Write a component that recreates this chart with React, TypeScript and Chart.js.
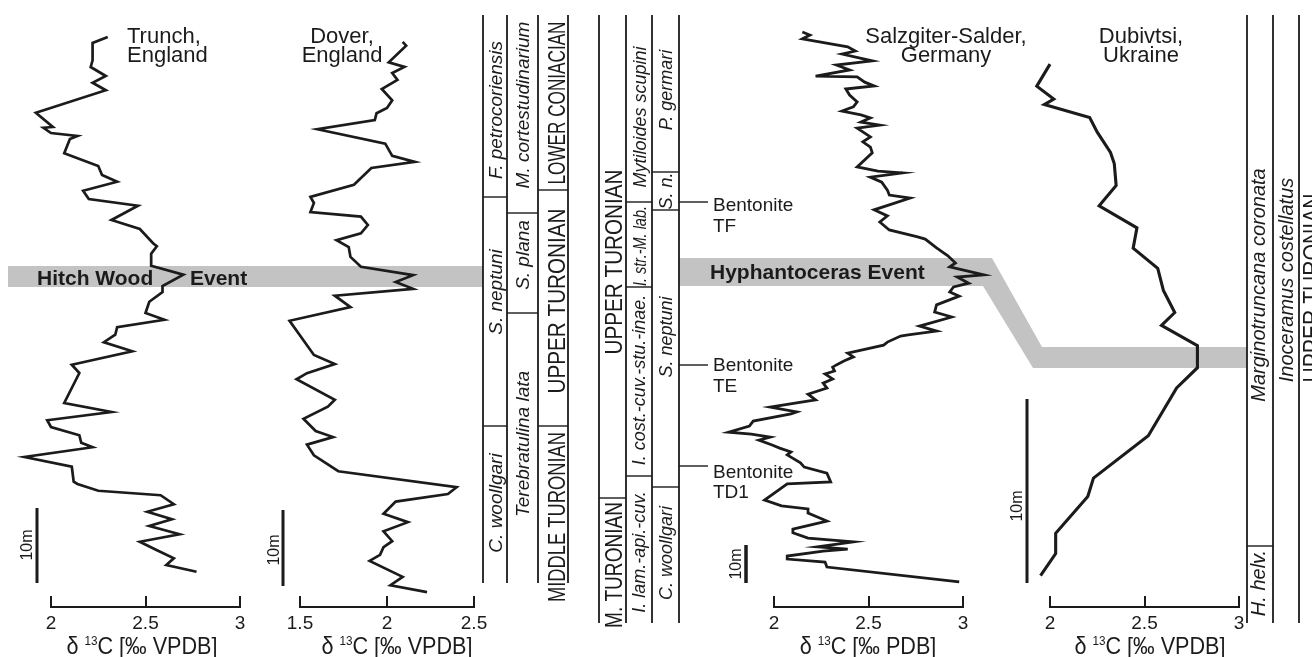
import React, { useEffect, useRef } from "react";
import { Chart, registerables } from "chart.js";

Chart.register(...registerables);

const FONT = '"Liberation Sans", Arial, Helvetica, sans-serif';
const INK = "#1b1b1b";
const BAND = "#c3c3c3";
const PAGE_W = 1312;
const PAGE_H = 657;
const AXIS_Y = 607;

// ---------------- data (δ13C in ‰, stratigraphic height in m) ----------------
const trunchD13C = [2.30, 2.22, 2.22, 2.21, 2.29, 2.22, 2.29, 1.92, 2.01, 1.96, 2.00, 2.14, 2.10, 2.07, 2.25, 2.27, 2.35, 2.17, 2.20, 2.46, 2.32, 2.47, 2.54, 2.56, 2.53, 2.53, 2.70, 2.59, 2.59, 2.52, 2.50, 2.60, 2.35, 2.34, 2.28, 2.43, 2.11, 2.15, 2.07, 2.32, 1.98, 2.00, 2.15, 2.16, 2.22, 1.86, 2.11, 2.12, 2.14, 2.25, 2.58, 2.65, 2.51, 2.64, 2.52, 2.68, 2.47, 2.55, 2.65, 2.61, 2.77];
const trunchHeightM = [72.8, 72.0, 69.7, 68.8, 67.6, 66.7, 65.7, 62.7, 60.8, 60.7, 60.0, 59.6, 59.2, 57.3, 55.6, 54.4, 53.5, 52.3, 51.2, 50.3, 48.4, 47.2, 45.3, 44.9, 43.9, 42.3, 41.1, 39.6, 38.8, 37.5, 36.0, 35.1, 34.1, 33.1, 32.1, 30.9, 29.1, 28.0, 24.0, 22.8, 21.7, 20.8, 19.7, 18.7, 18.1, 16.8, 15.5, 13.5, 13.2, 12.3, 11.7, 10.5, 9.5, 8.5, 7.6, 6.5, 5.5, 4.5, 3.3, 2.4, 1.5];
const trunchTicks = [2, 2.5, 3];

const doverD13C = [2.09, 2.11, 2.01, 2.10, 2.03, 2.06, 1.97, 2.03, 2.00, 1.94, 1.93, 1.60, 1.99, 2.03, 2.16, 1.91, 1.81, 1.56, 1.58, 1.56, 1.85, 1.89, 1.85, 1.71, 1.78, 1.79, 1.85, 2.15, 2.05, 2.15, 1.70, 1.79, 1.44, 1.58, 1.70, 1.54, 1.48, 1.70, 1.66, 1.52, 1.59, 1.69, 1.54, 1.58, 1.72, 2.40, 2.35, 2.05, 1.98, 2.12, 1.98, 2.03, 1.98, 1.96, 1.90, 2.09, 2.02, 2.23];
const doverHeightM = [71.6, 71.1, 68.9, 68.3, 67.5, 66.6, 65.4, 63.9, 62.9, 62.2, 61.3, 60.1, 58.2, 56.6, 55.8, 55.0, 52.8, 51.2, 50.4, 49.2, 48.6, 47.5, 46.4, 45.5, 44.6, 43.3, 42.0, 40.9, 40.0, 39.1, 38.2, 36.7, 34.9, 30.4, 29.2, 28.0, 27.2, 24.5, 23.6, 22.0, 20.4, 19.6, 18.6, 17.2, 15.1, 13.0, 12.1, 11.1, 9.5, 8.4, 7.2, 5.9, 5.1, 4.1, 3.3, 1.2, 0.1, -0.8];
const doverTicks = [1.5, 2, 2.5];

const salzgitterD13C = [2.15, 2.19, 2.15, 2.39, 2.43, 2.36, 2.52, 2.33, 2.40, 2.22, 2.44, 2.48, 2.53, 2.38, 2.40, 2.44, 2.42, 2.36, 2.46, 2.51, 2.46, 2.56, 2.44, 2.48, 2.51, 2.47, 2.51, 2.52, 2.44, 2.55, 2.68, 2.51, 2.57, 2.60, 2.61, 2.72, 2.53, 2.60, 2.56, 2.61, 2.76, 2.80, 2.86, 2.92, 2.96, 2.93, 3.11, 2.97, 3.03, 2.95, 2.93, 2.98, 2.86, 2.85, 2.94, 2.77, 2.86, 2.71, 2.67, 2.60, 2.58, 2.39, 2.42, 2.37, 2.33, 2.31, 2.32, 2.27, 2.31, 2.26, 2.28, 2.18, 2.22, 2.12, 1.98, 2.12, 2.09, 1.89, 1.87, 1.76, 1.88, 1.98, 1.92, 1.99, 2.03, 2.09, 2.07, 2.14, 2.16, 2.28, 2.30, 2.07, 1.95, 2.04, 2.18, 2.18, 2.28, 2.10, 2.10, 2.18, 2.42, 2.23, 2.39, 2.26, 2.07, 2.07, 2.27, 2.28, 2.98];
const salzgitterHeightM = [145.0, 144.2, 143.2, 141.1, 140.0, 139.2, 137.4, 136.3, 135.0, 133.4, 133.2, 131.8, 130.8, 130.0, 128.4, 126.6, 125.3, 124.2, 123.2, 122.4, 121.3, 120.5, 119.7, 118.4, 117.4, 116.1, 114.7, 113.2, 109.5, 108.4, 107.9, 106.8, 105.5, 103.4, 102.1, 101.3, 98.2, 96.6, 95.0, 92.9, 91.1, 90.5, 88.2, 86.1, 84.2, 83.2, 81.1, 80.5, 78.9, 77.9, 76.6, 75.5, 73.2, 71.3, 70.0, 67.6, 66.3, 65.3, 65.0, 63.4, 62.6, 60.5, 59.5, 58.4, 57.4, 56.8, 55.8, 55.0, 53.7, 52.6, 51.3, 49.7, 48.2, 47.4, 46.3, 45.0, 44.5, 42.6, 41.3, 39.7, 39.2, 38.4, 37.6, 36.3, 35.5, 34.5, 33.7, 31.6, 30.5, 28.9, 26.6, 26.1, 21.8, 20.3, 19.5, 18.4, 16.3, 14.2, 13.2, 11.8, 10.8, 9.5, 8.9, 8.4, 7.1, 6.3, 5.5, 4.2, 0.3];
const salzgitterTicks = [2, 2.5, 3];

const dubivtsiD13C = [2.00, 1.93, 2.02, 1.97, 2.21, 2.25, 2.32, 2.34, 2.35, 2.26, 2.46, 2.44, 2.57, 2.60, 2.66, 2.59, 2.78, 2.78, 2.67, 2.52, 2.23, 2.20, 2.03, 2.03, 1.95];
const dubivtsiHeightM = [28.2, 27.0, 26.3, 26.0, 25.3, 24.5, 23.4, 22.8, 21.6, 20.5, 19.3, 18.2, 17.1, 15.9, 14.7, 14.0, 12.9, 11.7, 10.6, 8.0, 5.7, 4.7, 2.7, 1.6, 0.4];
const dubivtsiTicks = [2, 2.5, 3];

// ---------------- stratigraphic columns (labels) ----------------
// [text, centerX, centerY, fontSize, style('i' italic / 'c' caps), targetLength?]
const STRAT_LABELS: [string, number, number, number, string, number?][] = [
  ["F. petrocoriensis", 497, 110, 19, "i"],
  ["S. neptuni", 497, 292, 19, "i"],
  ["C. woollgari", 497, 503, 19, "i"],
  ["M. cortestudinarium", 524, 105, 19, "i"],
  ["S. plana", 524, 255, 19, "i"],
  ["Terebratulina lata", 524, 444, 19, "i"],
  ["LOWER CONIACIAN", 556, 103, 24, "c", 163],
  ["UPPER TURONIAN", 556, 301, 24, "c", 185],
  ["MIDDLE TURONIAN", 556, 517, 24, "c", 170],
  ["UPPER TURONIAN", 613, 262, 24, "c", 185],
  ["M. TURONIAN", 613, 565, 24, "c", 126],
  ["Mytiloides scupini", 641, 117, 18, "i"],
  ["I. str.-M. lab.", 641, 246, 18, "i", 80],
  ["I. cost.-cuv.-stu.-inae.", 640, 380, 18, "i"],
  ["I. lam.-api.-cuv.", 640, 552, 18, "i"],
  ["P. germari", 667, 90, 18, "i"],
  ["S. n.", 667, 191, 18, "i"],
  ["S. neptuni", 667, 337, 18, "i"],
  ["C. woollgari", 667, 553, 18, "i"],
  ["Marginotruncana coronata", 1260, 285, 20, "i"],
  ["H. helv.", 1260, 583, 20, "i"],
  ["Inoceramus costellatus", 1288, 280, 20, "i"],
  ["UPPER TURONIAN", 1311, 288, 24, "c", 189],
];

// layout of column frames: vertical [x, y0, y1], horizontal [x0, x1, y]
const STRAT_V = [
  [483, 15, 583], [507, 15, 583], [538, 15, 583], [568, 15, 583],
  [599, 15, 623], [626, 15, 623], [652, 15, 623], [679, 15, 623],
  [1247, 15, 623], [1273, 15, 623], [1299, 15, 623],
];
const STRAT_H = [
  [483, 507, 197], [483, 507, 426], [507, 538, 213], [507, 538, 313],
  [538, 568, 190], [538, 568, 426],
  [599, 626, 498], [626, 652, 202], [626, 652, 287], [626, 652, 476],
  [652, 679, 172], [652, 679, 210], [652, 679, 487],
  [1247, 1273, 546],
];

const BENTONITES = [
  { label: "TF", leaderY: 202, base1: 211, base2: 232 },
  { label: "TE", leaderY: 365, base1: 371, base2: 392 },
  { label: "TD1", leaderY: 466, base1: 478, base2: 498 },
];

const HYPH_BAND = [
  [679, 258], [992, 258], [1042, 347], [1247, 347], [1247, 368], [1033, 368], [983, 286], [679, 286],
];

// ---------------- panels ----------------
type Panel = {
  id: string; d13c: number[]; height: number[]; ticks: number[];
  xMin: number; xMax: number; left: number; right: number; yMin: number; yMax: number;
  unit: string; titleCx: number; site: string[]; siteX: number; siteAlign: CanvasTextAlign;
  barX: number; barW: number; barLabelX: number; barLabelY: number; lw: number; background?: boolean;
};

const PANELS: Panel[] = [
  { id: "trunch", d13c: trunchD13C, height: trunchHeightM, ticks: trunchTicks, xMin: 2, xMax: 3, left: 51, right: 240,
    yMin: -3.2, yMax: 77.733, unit: "VPDB", titleCx: 142, site: ["Trunch,", "England"], siteX: 127, siteAlign: "left",
    barX: 37, barW: 3, barLabelX: 26, barLabelY: 545, lw: 2.7, background: true },
  { id: "dover", d13c: doverD13C, height: doverHeightM, ticks: doverTicks, xMin: 1.5, xMax: 2.5, left: 300, right: 474,
    yMin: -2.763, yMax: 77.105, unit: "VPDB", titleCx: 397, site: ["Dover,", "England"], siteX: 342, siteAlign: "center",
    barX: 283, barW: 3, barLabelX: 273, barLabelY: 550, lw: 2.7 },
  { id: "salzgitter", d13c: salzgitterD13C, height: salzgitterHeightM, ticks: salzgitterTicks, xMin: 2, xMax: 3, left: 774, right: 963,
    yMin: -6.316, yMax: 153.42, unit: "PDB", titleCx: 868, site: ["Salzgiter-Salder,", "Germany"], siteX: 946, siteAlign: "center",
    barX: 746, barW: 3.5, barLabelX: 735, barLabelY: 564, lw: 2.8 },
  { id: "dubivtsi", d13c: dubivtsiD13C, height: dubivtsiHeightM, ticks: dubivtsiTicks, xMin: 2, xMax: 3, left: 1050, right: 1239,
    yMin: -1.304, yMax: 31.685, unit: "VPDB", titleCx: 1150, site: ["Dubivtsi,", "Ukraine"], siteX: 1141, siteAlign: "center",
    barX: 1027, barW: 3, barLabelX: 1016, barLabelY: 506, lw: 3.1 },
];

// ---------------- drawing helpers ----------------
function vtext(ctx: CanvasRenderingContext2D, text: string, cx: number, cy: number, size: number,
  o: { italic?: boolean; caps?: boolean; len?: number }) {
  ctx.save();
  ctx.font = `${o.italic ? "italic " : ""}${size}px ${FONT}`;
  ctx.fillStyle = INK;
  const w = ctx.measureText(text).width;
  const sx = o.len ? o.len / w : 1;
  const off = (o.caps ? 0.358 : 0.26) * size;
  ctx.translate(cx + off, cy);
  ctx.rotate(-Math.PI / 2);
  ctx.scale(sx, 1);
  ctx.textAlign = "center";
  ctx.textBaseline = "alphabetic";
  ctx.fillText(text, 0, 0);
  ctx.restore();
}

function deltaTitle(ctx: CanvasRenderingContext2D, cx: number, baseline: number, unit: string) {
  const bigF = `24px ${FONT}`;
  const smallF = `13px ${FONT}`;
  const a = "δ ";
  const c = `C [‰ ${unit}]`;
  ctx.save();
  ctx.font = bigF;
  const wa = ctx.measureText(a).width;
  const wc = ctx.measureText(c).width;
  ctx.font = smallF;
  const wb = ctx.measureText("13").width;
  const total = wa + wb + wc;
  ctx.translate(cx, baseline);
  ctx.scale(0.9, 1);
  ctx.fillStyle = INK;
  ctx.textAlign = "left";
  ctx.textBaseline = "alphabetic";
  let x = -total / 2;
  ctx.font = bigF; ctx.fillText(a, x, 0); x += wa;
  ctx.font = smallF; ctx.fillText("13", x, -9); x += wb;
  ctx.font = bigF; ctx.fillText(c, x, 0);
  ctx.restore();
}

function drawBackground(ctx: CanvasRenderingContext2D) {
  ctx.save();
  // event bands
  ctx.fillStyle = BAND;
  ctx.fillRect(8, 266, 475, 21);
  ctx.beginPath();
  HYPH_BAND.forEach(([x, y], i) => (i ? ctx.lineTo(x, y) : ctx.moveTo(x, y)));
  ctx.closePath();
  ctx.fill();

  ctx.fillStyle = INK;
  ctx.font = `bold 21px ${FONT}`;
  ctx.textAlign = "left";
  ctx.textBaseline = "alphabetic";
  ctx.fillText("Hitch Wood", 37, 285);
  ctx.fillText("Event", 190, 285);
  ctx.fillText("Hyphantoceras Event", 710, 279);

  // column frames
  ctx.strokeStyle = INK;
  ctx.lineCap = "butt";
  ctx.lineWidth = 1.8;
  for (const [x, y0, y1] of STRAT_V) {
    ctx.beginPath(); ctx.moveTo(x, y0); ctx.lineTo(x, y1); ctx.stroke();
  }
  ctx.lineWidth = 1.4;
  for (const [x0, x1, y] of STRAT_H) {
    ctx.beginPath(); ctx.moveTo(x0, y); ctx.lineTo(x1, y); ctx.stroke();
  }
  for (const [t, cx, cy, size, st, len] of STRAT_LABELS) {
    vtext(ctx, t, cx, cy, size, { italic: st === "i", caps: st === "c", len });
  }

  // bentonites
  ctx.font = `19px ${FONT}`;
  ctx.fillStyle = INK;
  ctx.textAlign = "left";
  for (const b of BENTONITES) {
    ctx.beginPath(); ctx.moveTo(679, b.leaderY); ctx.lineTo(708, b.leaderY); ctx.stroke();
    ctx.fillText("Bentonite", 713, b.base1);
    ctx.fillText(b.label, 713, b.base2);
  }
  ctx.restore();
}

function makePlugin(p: Panel) {
  return {
    id: "deco-" + p.id,
    beforeDraw(chart: any) {
      if (p.background) drawBackground(chart.ctx);
    },
    afterDraw(chart: any) {
      const ctx: CanvasRenderingContext2D = chart.ctx;
      const ys = chart.scales.y;
      ctx.save();
      ctx.strokeStyle = INK;
      ctx.lineWidth = p.barW;
      ctx.lineCap = "butt";
      ctx.beginPath();
      ctx.moveTo(p.barX, ys.getPixelForValue(0));
      ctx.lineTo(p.barX, ys.getPixelForValue(10));
      ctx.stroke();
      vtext(ctx, "10m", p.barLabelX, p.barLabelY, 16, { caps: true });

      ctx.fillStyle = INK;
      ctx.font = `22px ${FONT}`;
      ctx.textAlign = p.siteAlign;
      ctx.textBaseline = "alphabetic";
      ctx.fillText(p.site[0], p.siteX, 43);
      ctx.fillText(p.site[1], p.siteX, 62);
      ctx.restore();
      deltaTitle(ctx, p.titleCx, 654, p.unit);
    },
  };
}

function buildConfig(p: Panel): any {
  return {
    type: "line",
    data: {
      datasets: [{
        data: p.d13c.map((v, i) => ({ x: v, y: p.height[i] })),
        borderColor: INK,
        borderWidth: p.lw,
        pointRadius: 0,
        pointHoverRadius: 0,
        tension: 0,
        fill: false,
        clip: false,
        borderJoinStyle: "miter",
        borderCapStyle: "butt",
      }],
    },
    options: {
      responsive: false,
      animation: false,
      devicePixelRatio: 1,
      events: [],
      layout: { autoPadding: false, padding: { left: p.left, right: PAGE_W - p.right, top: 0, bottom: 0 } },
      plugins: { legend: { display: false }, tooltip: { enabled: false }, title: { display: false } },
      scales: {
        x: {
          type: "linear",
          position: "bottom",
          min: p.xMin,
          max: p.xMax,
          afterBuildTicks: (s: any) => { s.ticks = p.ticks.map((v) => ({ value: v })); },
          afterFit: (s: any) => { s.height = PAGE_H - AXIS_Y; },
          grid: { display: true, drawOnChartArea: false, drawTicks: true, tickLength: -11, tickWidth: 2, tickColor: INK, color: INK, lineWidth: 2 },
          border: { display: true, color: INK, width: 2 },
          ticks: { color: INK, font: { family: FONT, size: 19 }, padding: 16, maxRotation: 0, autoSkip: false, callback: (v: any) => String(v) },
        },
        y: { type: "linear", display: false, min: p.yMin, max: p.yMax },
      },
    },
    plugins: [makePlugin(p)],
  };
}

export default function App() {
  const refs = useRef<(HTMLCanvasElement | null)[]>([]);
  useEffect(() => {
    const charts = PANELS.map((p, i) => new Chart(refs.current[i] as HTMLCanvasElement, buildConfig(p)));
    return () => charts.forEach((c) => c.destroy());
  }, []);
  return (
    <div style={{ position: "fixed", left: 0, top: 0, width: PAGE_W, height: PAGE_H, background: "#fff", overflow: "hidden" }}>
      {PANELS.map((p, i) => (
        <canvas
          key={p.id}
          ref={(el) => { refs.current[i] = el; }}
          width={PAGE_W}
          height={PAGE_H}
          style={{ position: "absolute", left: 0, top: 0 }}
        />
      ))}
    </div>
  );
}
